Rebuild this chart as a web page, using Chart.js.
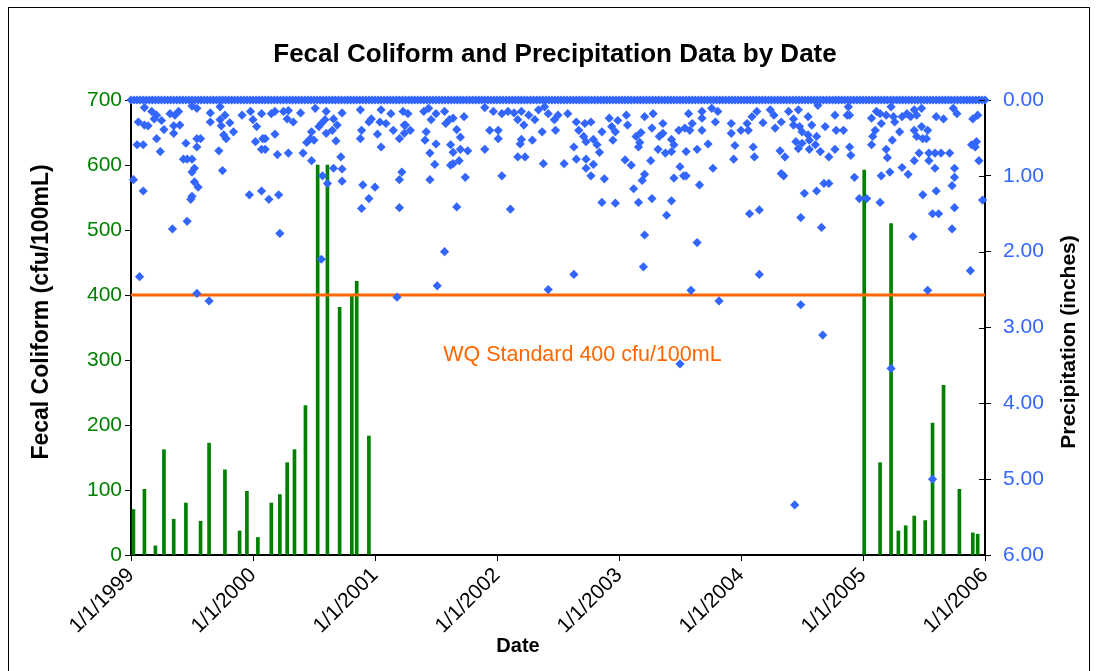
<!DOCTYPE html>
<html>
<head>
<meta charset="utf-8">
<script src="https://cdn.jsdelivr.net/npm/chart.js@4.4.1/dist/chart.umd.min.js"></script>
<style>
  html, body { margin: 0; padding: 0; background: #fff; }
  canvas { display: block; }
</style>
</head>
<body>
<canvas id="fcChart" width="1098" height="671"></canvas>
<script>
// Fecal coliform samples (cfu/100mL) vs daily precipitation (inches).
// Dates are kept as fractional years, axis ticks fall on 1 January.
const yearTicks = [1999, 2000, 2001, 2002, 2003, 2004, 2005, 2006];

const coliformYears = [
  1999.02, 1999.11, 1999.20, 1999.27, 1999.35, 1999.45, 1999.57, 1999.64, 1999.77, 1999.89, 1999.95,
  2000.04, 2000.15, 2000.22, 2000.28, 2000.34, 2000.43, 2000.53, 2000.61, 2000.71, 2000.81, 2000.85, 2000.95,
  2005.01, 2005.14, 2005.23, 2005.29, 2005.35, 2005.42, 2005.51, 2005.57, 2005.66, 2005.79, 2005.90, 2005.94
];
const coliformValues = [
  70, 101, 14, 162, 55, 80, 52, 172, 131, 37, 98,
  27, 80, 93, 142, 162, 230, 600, 600, 381, 401, 421, 183,
  592, 142, 510, 37, 45, 60, 53, 203, 261, 101, 34, 32
];

const standardValue = 400;

// days with no rain, read along the solid band at 0.00
const dryYears = [
  1999.000, 1999.025, 1999.050, 1999.075, 1999.100, 1999.125, 1999.150, 1999.175, 1999.200, 1999.225,
  1999.250, 1999.275, 1999.300, 1999.325, 1999.350, 1999.375, 1999.400, 1999.425, 1999.450, 1999.475,
  1999.500, 1999.525, 1999.550, 1999.575, 1999.600, 1999.625, 1999.650, 1999.675, 1999.700, 1999.725,
  1999.750, 1999.775, 1999.800, 1999.825, 1999.850, 1999.875, 1999.900, 1999.925, 1999.950, 1999.975,
  2000.000, 2000.025, 2000.050, 2000.075, 2000.100, 2000.125, 2000.150, 2000.175, 2000.200, 2000.225,
  2000.250, 2000.275, 2000.300, 2000.325, 2000.350, 2000.375, 2000.400, 2000.425, 2000.450, 2000.475,
  2000.500, 2000.525, 2000.550, 2000.575, 2000.600, 2000.625, 2000.650, 2000.675, 2000.700, 2000.725,
  2000.750, 2000.775, 2000.800, 2000.825, 2000.850, 2000.875, 2000.900, 2000.925, 2000.950, 2000.975,
  2001.000, 2001.025, 2001.050, 2001.075, 2001.100, 2001.125, 2001.150, 2001.175, 2001.200, 2001.225,
  2001.250, 2001.275, 2001.300, 2001.325, 2001.350, 2001.375, 2001.400, 2001.425, 2001.450, 2001.475,
  2001.500, 2001.525, 2001.550, 2001.575, 2001.600, 2001.625, 2001.650, 2001.675, 2001.700, 2001.725,
  2001.750, 2001.775, 2001.800, 2001.825, 2001.850, 2001.875, 2001.900, 2001.925, 2001.950, 2001.975,
  2002.000, 2002.025, 2002.050, 2002.075, 2002.100, 2002.125, 2002.150, 2002.175, 2002.200, 2002.225,
  2002.250, 2002.275, 2002.300, 2002.325, 2002.350, 2002.375, 2002.400, 2002.425, 2002.450, 2002.475,
  2002.500, 2002.525, 2002.550, 2002.575, 2002.600, 2002.625, 2002.650, 2002.675, 2002.700, 2002.725,
  2002.750, 2002.775, 2002.800, 2002.825, 2002.850, 2002.875, 2002.900, 2002.925, 2002.950, 2002.975,
  2003.000, 2003.025, 2003.050, 2003.075, 2003.100, 2003.125, 2003.150, 2003.175, 2003.200, 2003.225,
  2003.250, 2003.275, 2003.300, 2003.325, 2003.350, 2003.375, 2003.400, 2003.425, 2003.450, 2003.475,
  2003.500, 2003.525, 2003.550, 2003.575, 2003.600, 2003.625, 2003.650, 2003.675, 2003.700, 2003.725,
  2003.750, 2003.775, 2003.800, 2003.825, 2003.850, 2003.875, 2003.900, 2003.925, 2003.950, 2003.975,
  2004.000, 2004.025, 2004.050, 2004.075, 2004.100, 2004.125, 2004.150, 2004.175, 2004.200, 2004.225,
  2004.250, 2004.275, 2004.300, 2004.325, 2004.350, 2004.375, 2004.400, 2004.425, 2004.450, 2004.475,
  2004.500, 2004.525, 2004.550, 2004.575, 2004.600, 2004.625, 2004.650, 2004.675, 2004.700, 2004.725,
  2004.750, 2004.775, 2004.800, 2004.825, 2004.850, 2004.875, 2004.900, 2004.925, 2004.950, 2004.975,
  2005.000, 2005.025, 2005.050, 2005.075, 2005.100, 2005.125, 2005.150, 2005.175, 2005.200, 2005.225,
  2005.250, 2005.275, 2005.300, 2005.325, 2005.350, 2005.375, 2005.400, 2005.425, 2005.450, 2005.475,
  2005.500, 2005.525, 2005.550, 2005.575, 2005.600, 2005.625, 2005.650, 2005.675, 2005.700, 2005.725,
  2005.750, 2005.775, 2005.800, 2005.825, 2005.850, 2005.875, 2005.900, 2005.925, 2005.950, 2005.975,
  2006.000
];

const rainYears = [
  1999.11, 1999.17, 1999.21, 1999.19, 1999.25, 1999.32, 1999.36, 1999.39, 1999.27, 1999.35,
  1999.40, 1999.35, 1999.06, 1999.11, 1999.14, 1999.21, 1999.05, 1999.10, 1999.24, 1999.45,
  1999.54, 1999.57, 1999.54, 1999.43, 1999.46, 1999.50, 1999.52, 1999.50, 1999.02, 1999.10,
  1999.52, 1999.55, 1999.50, 1999.49, 1999.46, 1999.34, 1999.07, 1999.54, 1999.64, 1999.65,
  1999.65, 1999.73, 1999.77, 1999.74, 1999.81, 1999.84, 1999.76, 1999.78, 1999.72, 1999.75,
  1999.91, 1999.98, 2000.00, 2000.03, 2000.07, 2000.08, 2000.02, 2000.07, 1999.97, 2000.07,
  2000.13, 1999.50, 1999.54, 1999.73,
  2000.15, 2000.18, 2000.25, 2000.29, 2000.28, 2000.33, 2000.39, 2000.18, 2000.10, 2000.10,
  2000.20, 2000.29, 2000.41, 2000.48, 2000.44, 2000.47, 2000.48, 2000.50, 2000.54, 2000.56,
  2000.59, 2000.60, 2000.65, 2000.66, 2000.69, 2000.68, 2000.73, 2000.72, 2000.66, 2000.73,
  2000.73, 2000.57, 2000.61, 2000.51, 2000.60, 2000.21, 2000.22, 2000.56, 2000.90,
  2001.00, 2000.95, 2000.89, 2000.89, 2000.88, 2001.02, 2001.05, 2000.88, 2000.95, 2000.97,
  2001.04, 2001.09, 2001.15, 2001.20, 2001.24, 2001.24, 2001.22, 2001.20, 2001.20, 2001.18,
  2001.05, 2001.13, 2001.23,
  2001.27, 2001.29, 2001.25, 2001.40, 2001.44, 2001.46, 2001.50, 2001.57, 2001.58, 2001.61,
  2001.64, 2001.73, 2001.67, 2001.70, 2001.42, 2001.41, 2001.50, 2001.45, 2001.49, 2001.62,
  2001.64, 2001.70, 2001.76, 2001.69, 2001.62, 2001.64, 2001.45, 2001.74, 2001.67, 2001.57,
  2001.51, 2001.90, 2001.97, 2002.04, 2002.09, 2002.14, 2002.17, 2002.22, 2002.20, 2002.26,
  2002.31, 2002.34, 2002.39, 2001.94, 2002.01, 2002.01, 2001.90, 2002.20, 2002.19, 2002.29,
  2002.37, 2002.17, 2002.23, 2002.38, 2002.04, 2002.11, 2002.42,
  2002.42, 2002.47, 2002.50, 2002.58, 2002.48, 2002.55, 2002.65, 2002.67, 2002.72, 2002.77,
  2002.71, 2002.73, 2002.79, 2002.82, 2002.84, 2002.86, 2002.92, 2002.94, 2002.97, 2002.95,
  2002.99, 2003.06, 2003.07, 2003.14, 2003.18, 2003.17, 2003.16, 2003.27, 2003.21, 2003.28,
  2003.36, 2003.33, 2003.36, 2003.43, 2003.45, 2003.32, 2003.38, 2003.43, 2003.49, 2003.54,
  2003.55, 2002.63, 2002.65, 2002.73, 2002.79, 2002.73, 2002.77, 2002.88, 2003.05, 2003.10,
  2003.26, 2003.21, 2003.19, 2003.12, 2003.50, 2003.45, 2003.53, 2003.55, 2002.86, 2002.97,
  2003.16, 2003.27, 2003.43, 2003.39, 2003.21, 2003.20, 2002.63,
  2003.57, 2003.60, 2003.58, 2003.68, 2003.68, 2003.76, 2003.81, 2003.79, 2003.68, 2003.73,
  2003.64, 2003.92, 2003.92, 2004.05, 2004.09, 2004.13, 2004.00, 2004.06, 2003.95, 2004.10,
  2004.11, 2003.94, 2004.18, 2004.24, 2004.27, 2004.28, 2004.33, 2004.39, 2004.43, 2004.43,
  2004.47, 2004.48, 2004.50, 2004.55, 2004.58, 2004.55, 2004.56, 2004.62, 2004.61, 2004.69,
  2004.63, 2004.45, 2004.50, 2004.47, 2004.56, 2004.65, 2004.72, 2004.32, 2004.36, 2003.66,
  2003.77, 2004.33, 2004.35, 2004.68, 2004.72, 2004.62, 2004.52, 2004.07, 2004.15, 2004.49,
  2004.66, 2003.64, 2004.15, 2003.59, 2003.82, 2004.49,
  2004.77, 2004.78, 2004.84, 2004.87, 2004.89, 2004.88, 2004.77, 2004.89, 2004.90, 2004.93,
  2004.97, 2005.03, 2005.14, 2005.07, 2005.11, 2005.14, 2005.15, 2005.10, 2005.08, 2005.07,
  2005.19, 2005.23, 2005.25, 2005.26, 2005.30, 2005.24, 2005.19, 2005.20, 2005.32, 2005.36,
  2005.39, 2005.42, 2005.44, 2005.48, 2005.42, 2005.44, 2005.48, 2005.53, 2005.49, 2005.52,
  2005.46, 2005.42, 2005.15, 2005.22, 2005.32, 2005.37, 2005.49, 2005.54, 2005.54, 2005.59,
  2005.64, 2005.71, 2005.59, 2005.60, 2005.60, 2005.66, 2005.74, 2005.77, 2005.75, 2005.75,
  2005.73, 2005.75, 2005.57, 2005.62, 2005.73, 2005.41, 2005.88, 2005.53, 2005.90, 2005.94,
  2005.89, 2005.93, 2005.92, 2005.95, 2005.98,
  2003.50, 2004.67, 2004.44, 2005.23, 2005.57
];
const rainInches = [
  0.10, 0.15, 0.20, 0.25, 0.27, 0.18, 0.20, 0.15, 0.39, 0.34,
  0.33, 0.44, 0.29, 0.33, 0.34, 0.51, 0.59, 0.59, 0.68, 0.57,
  0.51, 0.51, 0.62, 0.78, 0.78, 0.78, 0.90, 0.95, 1.05, 1.20,
  1.08, 1.15, 1.27, 1.31, 1.60, 1.70, 2.33, 2.55, 2.65, 0.17,
  0.29, 0.26, 0.20, 0.34, 0.30, 0.42, 0.46, 0.51, 0.67, 0.93,
  0.20, 0.15, 0.26, 0.35, 0.18, 0.51, 0.55, 0.65, 1.25, 1.20,
  1.31, 0.08, 0.11, 0.09,
  0.18, 0.15, 0.15, 0.14, 0.25, 0.29, 0.17, 0.45, 0.51, 0.65,
  0.72, 0.70, 0.70, 0.80, 0.56, 0.51, 0.42, 0.53, 0.35, 0.31,
  0.26, 0.44, 0.40, 0.25, 0.33, 0.54, 0.17, 0.75, 0.90, 0.91,
  1.07, 1.00, 1.10, 0.11, 0.15, 1.25, 1.76, 2.10, 1.12,
  1.15, 1.30, 1.43, 0.40, 0.51, 0.45, 0.62, 0.13, 0.29, 0.25,
  0.29, 0.31, 0.40, 0.51, 0.44, 0.33, 0.95, 1.05, 1.42, 2.60,
  0.13, 0.18, 0.15,
  0.18, 0.40, 0.33, 0.15, 0.11, 0.26, 0.18, 0.15, 0.31, 0.26,
  0.24, 0.22, 0.39, 0.49, 0.42, 0.53, 0.58, 0.70, 0.85, 0.59,
  0.69, 0.65, 0.67, 0.80, 0.86, 0.84, 1.05, 1.02, 1.41, 2.00,
  2.45, 0.10, 0.15, 0.18, 0.15, 0.17, 0.26, 0.33, 0.15, 0.20,
  0.26, 0.13, 0.09, 0.40, 0.40, 0.51, 0.65, 0.52, 0.58, 0.53,
  0.42, 0.75, 0.75, 0.84, 1.00, 1.44, 2.50,
  0.18, 0.26, 0.20, 0.18, 0.40, 0.84, 0.29, 0.40, 0.31, 0.29,
  0.48, 0.55, 0.52, 0.59, 0.69, 0.42, 0.24, 0.35, 0.42, 0.53,
  0.27, 0.20, 0.33, 0.48, 0.43, 0.56, 0.62, 0.37, 0.22, 0.18,
  0.31, 0.48, 0.44, 0.52, 0.59, 0.65, 0.70, 0.68, 0.40, 0.37,
  0.68, 0.62, 0.78, 0.78, 0.85, 0.90, 1.00, 1.04, 0.79, 0.86,
  0.80, 0.98, 1.06, 1.17, 0.88, 1.03, 1.00, 1.00, 1.35, 1.36,
  1.35, 1.30, 1.33, 1.52, 1.78, 2.20, 2.30,
  0.18, 0.31, 0.40, 0.15, 0.24, 0.11, 0.15, 0.29, 0.40, 0.58,
  0.65, 0.31, 0.44, 0.31, 0.22, 0.15, 0.40, 0.40, 0.60, 0.62,
  0.75, 0.78, 0.30, 0.13, 0.20, 0.37, 0.29, 0.15, 0.25, 0.33,
  0.13, 0.35, 0.42, 0.22, 0.33, 0.46, 0.53, 0.48, 0.59, 0.35,
  0.07, 0.55, 0.57, 0.64, 0.65, 0.68, 0.75, 0.67, 0.75, 1.12,
  0.90, 0.97, 1.00, 1.10, 1.10, 1.20, 1.23, 1.50, 1.45, 1.55,
  1.68, 1.88, 2.30, 2.51, 2.65, 2.70,
  0.20, 0.40, 0.40, 0.20, 0.20, 0.09, 0.65, 0.62, 0.73, 1.02,
  1.30, 1.30, 1.35, 0.24, 0.15, 0.18, 0.31, 0.40, 0.48, 0.59,
  0.20, 0.09, 0.22, 0.29, 0.42, 0.53, 0.65, 0.76, 0.22, 0.18,
  0.22, 0.13, 0.20, 0.11, 0.40, 0.48, 0.35, 0.40, 0.51, 0.51,
  0.70, 0.80, 1.00, 0.95, 0.89, 0.98, 1.25, 0.70, 0.80, 0.70,
  0.70, 0.70, 0.90, 1.20, 0.22, 0.25, 0.11, 0.18, 0.90, 1.02,
  1.13, 1.42, 1.50, 1.50, 1.70, 1.80, 2.25, 2.51, 0.25, 0.20,
  0.59, 0.55, 0.62, 0.80, 1.32,
  3.48, 3.10, 5.34, 3.54, 5.00
];

const GREEN = '#008000';
const BLUE = '#3366FF';
const ORANGE = '#FF6600';
const FONT = '"Liberation Sans", Arial, sans-serif';

const coliformPoints = coliformYears.map((x, i) => ({ x: x, y: coliformValues[i] }));
const precipPoints = dryYears.map(x => ({ x: x, y: 0 }))
  .concat(rainYears.map((x, i) => ({ x: x, y: rainInches[i] })));

// white page, outer frame, inner tick halves on the right axis, texts
const decorPlugin = {
  id: 'decor',
  beforeDraw(chart) {
    const c = chart.ctx;
    c.save();
    c.fillStyle = '#fff';
    c.fillRect(0, 0, chart.width, chart.height);
    c.strokeStyle = '#000';
    c.lineWidth = 1;
    c.strokeRect(8.5, 7.5, 1081, 700);
    c.restore();
  },
  afterDraw(chart) {
    const c = chart.ctx;
    const area = chart.chartArea;
    const y1 = chart.scales.y1;
    c.save();
    c.strokeStyle = '#000';
    c.lineWidth = 1;
    y1.ticks.forEach((t, i) => {
      const py = Math.round(y1.getPixelForTick(i)) + 0.5;
      c.beginPath();
      c.moveTo(area.right - 6, py);
      c.lineTo(area.right, py);
      c.stroke();
    });

    c.fillStyle = '#000';
    c.textAlign = 'center';
    c.textBaseline = 'middle';
    c.font = 'bold 26px ' + FONT;
    c.fillText('Fecal Coliform and Precipitation Data by Date', 555, 55);

    c.font = 'bold 20px ' + FONT;
    c.fillText('Date', 518, 646);

    c.save();
    c.translate(42, 312);
    c.rotate(-Math.PI / 2);
    c.font = 'bold 23px ' + FONT;
    c.fillText('Fecal Coliform (cfu/100mL)', 0, 0);
    c.restore();

    c.save();
    c.translate(1069, 342);
    c.rotate(-Math.PI / 2);
    c.font = 'bold 21px ' + FONT;
    c.fillText('Precipitation (inches)', 0, 0);
    c.restore();

    const x = chart.scales.x, y = chart.scales.y;
    c.fillStyle = ORANGE;
    c.font = '21.5px ' + FONT;
    c.fillText('WQ Standard ' + standardValue + ' cfu/100mL', x.getPixelForValue(2002.7), y.getPixelForValue(308));
    c.restore();
  }
};

const axisGrid = { drawOnChartArea: false, drawTicks: true, tickLength: 6, color: '#000', lineWidth: 1 };
const axisBorder = { display: true, color: '#000', width: 2 };

new Chart(document.getElementById('fcChart'), {
  type: 'bar',
  data: {
    datasets: [
      {
        type: 'scatter',
        label: 'Precipitation',
        data: precipPoints,
        yAxisID: 'y1',
        pointStyle: 'rectRot',
        pointRadius: 4.6,
        backgroundColor: BLUE,
        borderColor: BLUE,
        borderWidth: 0,
        clip: false,
        order: 0
      },
      {
        type: 'line',
        label: 'WQ Standard',
        data: [{ x: yearTicks[0], y: standardValue }, { x: yearTicks[yearTicks.length - 1], y: standardValue }],
        yAxisID: 'y',
        borderColor: ORANGE,
        borderWidth: 3,
        pointRadius: 0,
        fill: false,
        order: 1
      },
      {
        type: 'bar',
        label: 'Fecal Coliform',
        data: coliformPoints,
        yAxisID: 'y',
        backgroundColor: GREEN,
        barThickness: 3,
        order: 2
      }
    ]
  },
  options: {
    responsive: false,
    animation: false,
    devicePixelRatio: 1,
    events: [],
    layout: { padding: { top: 100, left: 0, right: 0, bottom: 0 } },
    plugins: { legend: { display: false }, tooltip: { enabled: false }, title: { display: false } },
    scales: {
      x: {
        type: 'linear',
        min: yearTicks[0],
        max: yearTicks[yearTicks.length - 1],
        offset: false,
        afterBuildTicks(scale) { scale.ticks = yearTicks.map(v => ({ value: v })); },
        afterFit(scale) { scale.height = 116; },
        ticks: {
          autoSkip: false,
          maxRotation: 45,
          minRotation: 45,
          padding: 2,
          color: '#000',
          font: { family: FONT, size: 21 },
          callback: v => '1/1/' + v
        },
        grid: Object.assign({ offset: false }, axisGrid),
        border: axisBorder
      },
      y: {
        position: 'left',
        min: 0,
        max: 700,
        afterFit(scale) { scale.width = 131; },
        ticks: { stepSize: 100, padding: 3, color: GREEN, font: { family: FONT, size: 21 } },
        grid: axisGrid,
        border: axisBorder
      },
      y1: {
        position: 'right',
        min: 0,
        max: 6,
        reverse: true,
        afterFit(scale) { scale.width = 113; },
        ticks: { stepSize: 1, padding: 12, color: BLUE, font: { family: FONT, size: 21 }, callback: v => v.toFixed(2) },
        grid: axisGrid,
        border: axisBorder
      }
    }
  },
  plugins: [decorPlugin]
});
</script>
</body>
</html>
